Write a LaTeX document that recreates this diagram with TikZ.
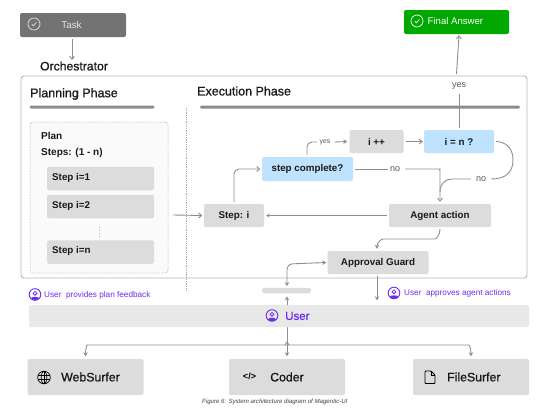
\documentclass[tikz,border=0pt]{standalone}
\usepackage{fontspec}
\setmainfont{Liberation Sans}
\newfontfamily\med[FakeBold=1.0]{Liberation Sans}
\usetikzlibrary{arrows.meta,calc}
\definecolor{boxg}{HTML}{DCDCDC}
\definecolor{lineg}{HTML}{8E8E8E}
\definecolor{bluef}{HTML}{BFE3FF}
\definecolor{purp}{HTML}{6A2CF5}
\definecolor{barg}{HTML}{8C8C8C}
\newcommand{\fsz}[1]{\fontsize{#1}{#1}\selectfont}
\tikzset{
  x=1pt,y=-1pt,
  gbox/.style={fill=boxg,rounded corners=2pt,inner sep=0pt,font=\fsz{9.8}\bfseries,text=black!90},
  bbox/.style={gbox,fill=bluef},
  agent/.style={fill=boxg,rounded corners=2pt,minimum width=116pt,minimum height=36pt,inner sep=0pt},
  conn/.style={draw=lineg,line width=0.9pt,rounded corners=5pt},
  arr/.style={conn,-{Straight Barb[length=3pt,width=5pt]}},
  farr/.style={conn,-{Stealth[length=4pt,width=4.5pt]}},
  head/.style={font=\med\fsz{12.5},anchor=west,inner sep=0pt,text=black!90},
  lbl/.style={font=\fsz{9},text=black!65,inner sep=0pt},
  purplbl/.style={font=\fsz{8.2},text=purp,anchor=west,inner sep=0pt},
  headbar/.style={fill=barg,rounded corners=1.4pt,inner sep=0pt,minimum height=3pt},
  agtxt/.style={font=\med\fsz{12.3},anchor=west,inner sep=0pt,text=black!90},
  pics/usericon/.style={code={
    \draw[purp,line width=0.9pt] (0,0) circle (5.8);
    \draw[purp,line width=0.8pt] (0,-1.2) circle (1.9);
    \fill[purp] (-4.2,3.9) .. controls (-3,1.8) and (3,1.8) .. (4.2,3.9) .. controls (2,6) and (-2,6) .. (-4.2,3.9) -- cycle;
  }}
}
\begin{document}
\begin{tikzpicture}
\useasboundingbox (0,0) rectangle (554,415);
\fill[white] (0,0) rectangle (554,415);

% frame
\node[draw=black!28,line width=0.9pt,rounded corners=3pt,minimum width=506pt,minimum height=202pt,inner sep=0pt] (frame) at (274,177) {};
\node[draw=black!45,densely dotted,line width=0.5pt,fill=black!2,rounded corners=3pt,minimum width=138pt,minimum height=151pt,inner sep=0pt] (plan) at (99,197.5) {};

% top
\node[fill=black!55,rounded corners=2pt,minimum width=106pt,minimum height=24pt,inner sep=0pt] (task) at (73,25) {};
\node[font=\fsz{9.8},text=black!10,inner sep=0pt] (tasktxt) at (71.5,25) {Task};
\draw[white!88!black,line width=0.7pt] (34,24) circle (6);
\draw[white!88!black,line width=0.7pt] (31.8,24.2) -- (33.4,25.8) -- (36.4,22.4);
\node[font=\med\fsz{12.2},inner sep=0pt,text=black!90] (orch) at (74,66) {Orchestrator};
\coordinate (orchin) at (72,60);
\draw[arr] (task.south -| orchin) ++(0,2) -- (orchin);
\node[fill=green!66!black,rounded corners=2pt,minimum width=105pt,minimum height=24pt,inner sep=0pt] (final) at (456.5,22) {};
\node[font=\fsz{9.6},text=white,inner sep=0pt,anchor=west] (finaltxt) at (427.5,21.5) {Final Answer};
\draw[white,line width=0.7pt] (417,21) circle (6);
\draw[white,line width=0.7pt] (414.8,21.2) -- (416.4,22.8) -- (419.4,19.4);

% headings
\node[head] (ph) at (30,94) {Planning Phase};
\node[head] (eh) at (197,91) {Execution Phase};
\node[headbar,minimum width=125pt] (b1) at (92,107) {};
\node[headbar,minimum width=320pt] (b2) at (360,107) {};
\coordinate (d1) at (186,108); \coordinate (d2) at (186,290);
\draw[black!35,densely dotted,line width=0.8pt] (d1) -- (d2);

% plan
\node[font=\fsz{10}\bfseries,anchor=west,inner sep=0pt,text=black!90] (plant) at (41,136) {Plan};
\node[font=\fsz{10}\bfseries,anchor=west,inner sep=0pt,text=black!90] (steps) at (41,153) {Steps: (1 - n)};
\node[gbox,minimum width=107pt,minimum height=23.5pt] (s1) at (100.5,178.5) {};
\node[gbox,minimum width=107pt,minimum height=23.5pt] (s2) at (100.5,206.5) {};
\node[gbox,minimum width=107pt,minimum height=23.5pt] (sn) at (100.5,252) {};
\node[gbox,anchor=west] (s1t) at (52,178) {Step i=1};
\node[gbox,anchor=west,fill=none] (s2t) at (52,206) {Step i=2};
\node[gbox,anchor=west,fill=none] (snt) at (52,251) {Step i=n};
\draw[black!30,dotted,line width=1pt] (s2.south) ++(-1.5,9) -- ++(0,11);

% execution
\node[gbox,minimum width=60pt,minimum height=23pt] (stepi) at (234,215.5) {Step: i};
\node[bbox,minimum width=91pt,minimum height=24pt] (sc) at (307.5,169) {step complete?};
\node[gbox,minimum width=54pt,minimum height=23pt] (ipp) at (376.5,141.5) {i ++};
\node[bbox,minimum width=70pt,minimum height=23pt] (ien) at (459,141.5) {i = n ?};
\node[gbox,minimum width=102pt,minimum height=23pt] (aa) at (440,215.5) {Agent action};
\node[gbox,minimum width=101pt,minimum height=23pt] (ag) at (378,262.5) {Approval Guard};

\node[lbl,font=\fsz{7}] (yes1) at (325,142) {yes};
\node[lbl] (yes2) at (459,86) {yes};
\node[lbl] (no1) at (395,169) {no};
\node[lbl] (no2) at (481,179) {no};

\coordinate (pout) at (173,215);
\draw[arr] (pout) -- ($(stepi.west)+(-1.5,0)$);
\draw[farr,-{Stealth[length=3.5pt,width=4pt]}] ($(aa.west)+(-2,0)$) -- ($(stepi.east)+(2,0)$);
\draw[arr] ($(stepi.north)+(0,-1.5)$) |- ($(sc.west)+(-1.5,0)$);
\draw[conn] ($(sc.north)+(-0.5,-2)$) |- ($(yes1.west)+(-2,0)$);
\draw[farr] ($(yes1.east)+(4,0)$) -- ($(ipp.west)+(-2,0)$);
\draw[arr] ($(ipp.east)+(2,0)$) -- ($(ien.west)+(-1,0)$);
\draw[conn] ($(sc.east)+(2,0)$) -- ($(no1.west)+(-2,0)$);
\draw[arr] ($(no1.east)+(5,0)$) -- (435,169) .. controls (439,169) and (440,171) .. (440,175) -- ($(aa.north)+(0,-2)$);
\draw[draw=lineg,line width=0.9pt] ($(ien.east)+(2,0)$) .. controls (506,142) and (513,148) .. (513,160) .. controls (513,172) and (506,179) .. ($(no2.east)+(5,0)$);
\draw[draw=lineg,line width=0.9pt] ($(no2.west)+(-5,0)$) -- (452,179) .. controls (445,179) and (440,184) .. (440,192);
\draw[farr] ($(aa.south)+(0,2)$) .. controls (440,235) and (436,239) .. (430,239) -- (388,239) .. controls (381,239) and (377,243) .. ($(ag.north)+(-1,-2)$);
\coordinate (fa1) at (456.5,74);
\draw[arr] (fa1) -- ($(final.south)+(2.5,1)$);
\draw[conn] ($(ien.north)+(0,-2)$) -- ($(yes2.south)+(0,4)$);

% agents and the connectors that pass behind the user bar
\node[agent] (web) at (85.5,377) {};
\node[agent] (cod) at (287,377) {};
\node[agent] (fil) at (471,377) {};
\node[agtxt] (webt) at (61,377) {WebSurfer};
\node[agtxt] (codt) at (270,377) {Coder};
\node[agtxt] (filt) at (447,377) {FileSurfer};
\node[fill=boxg,rounded corners=2.5pt,minimum width=49pt,minimum height=5.5pt,inner sep=0pt] (sbar) at (286.5,290.5) {};
\draw[farr,{Stealth[length=4pt,width=4.5pt]}-{Stealth[length=4pt,width=4.5pt]}] ($(sbar.south)+(0.5,3)$) -- ($(cod.north)+(0,-2.5)$);

% user
\node[fill=black!9,rounded corners=2pt,minimum width=500pt,minimum height=22pt,inner sep=0pt] (user) at (279,316) {};
\node[font=\med\fsz{11.5},text=purp,anchor=west,inner sep=0pt] (usert) at (285,316) {User};
\pic at (272,315.5) {usericon};
\pic at (35,294.5) {usericon};
\node[purplbl] (pf) at (44,295) {User\ \ provides plan feedback};
\pic at (394,293) {usericon};
\node[purplbl] (aw) at (404,293.5) {User\ \ approves agent actions};
\draw[farr] ($(ag.south)+(-1,2)$) -- ($(user.north)+(98,-4.5)$);

% agent icons
\draw[black,line width=0.7pt] (44,377.5) circle (6.3);
\draw[black,line width=0.6pt] (44,377.5) ellipse (2.8 and 6.3);
\draw[black,line width=0.6pt] (37.7,375.5) -- (50.3,375.5) (37.7,379.5) -- (50.3,379.5) (44,371.2) -- (44,383.8);
\node[font=\fsz{9}\bfseries,inner sep=0pt] (codei) at (249.5,376.5) {</>};
\draw[black,line width=0.9pt,line join=round,rounded corners=0.8pt] (425,371) -- (431,371) -- (435,375) -- (435,383.5) -- (425,383.5) -- cycle;
\draw[black,line width=0.7pt] (431,371) -- (431,375) -- (435,375);

% connectors user/agents
\coordinate (junc) at (287,345);
\draw[farr,{Stealth[length=4pt,width=4.5pt]}-{Stealth[length=4pt,width=4.5pt]}] ($(sbar.north)+(0.5,-1.5)$) -- ++(0,-22) -- ($(ag.west)+(-1,0)$);
\draw[farr] (junc) ++(0,-3) .. controls (286,344) and (284,345) .. (281,345) -- (92,345) .. controls (87,345) and (85.5,348) .. ($(web.north)+(0,-2.5)$);
\draw[farr] (junc) ++(0,-3) .. controls (288,344) and (290,345) .. (293,345) -- (464,345) .. controls (469,345) and (471,348) .. ($(fil.north)+(0,-2.5)$);

\node[font=\fsz{6.1}\itshape,text=black!75,inner sep=0pt,anchor=west] (cap) at (202,402) {Figure 6: System architecture diagram of Magentic-UI};
\end{tikzpicture}
\end{document}
